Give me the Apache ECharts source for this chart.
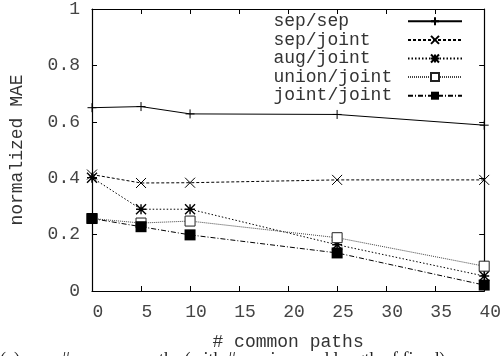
<!DOCTYPE html>
<html>
<head>
<meta charset="utf-8">
<script src="https://cdn.jsdelivr.net/npm/echarts@6/dist/echarts.min.js"></script>
<style>
html,body{margin:0;padding:0;background:#fff;}
#chart{width:504px;height:356px;}
</style>
</head>
<body>
<div id="chart"></div>
<script>
const xValues = [0, 5, 10, 25, 40];
const sepSep = [0.650, 0.654, 0.628, 0.626, 0.588];
const sepJoint = [0.413, 0.383, 0.384, 0.394, 0.394];
const augJoint = [0.402, 0.290, 0.290, 0.164, 0.053];
const unionJoint = [0.257, 0.241, 0.248, 0.189, 0.088];
const jointJoint = [0.257, 0.228, 0.199, 0.135, 0.021];
const seriesNames = ['sep/sep', 'sep/joint', 'aug/joint', 'union/joint', 'joint/joint'];
const xTicks = [0, 5, 10, 15, 20, 25, 30, 35, 40];
const yTicks = [0, 0.2, 0.4, 0.6, 0.8, 1];
const xTitle = '# common paths';
const yTitle = 'normalized MAE';
const caption = '(a) vary # common paths (with # services and length of fixed)';

const MONO = 'Liberation Mono';
const pairs = vals => xValues.map((x, i) => [x, vals[i]]);

const plusPath = 'path://M5,0L5,10M0,5L10,5';
const crossPath = 'path://M0,0L10,10M10,0L0,10';
const starPath = 'path://M0,0L10,10M10,0L0,10M5,0L5,10M0,5L10,5';

function mk(name, vals, dash, symbol, size, itemStyle, lineColor) {
  return {
    name: name,
    type: 'line',
    data: pairs(vals),
    symbol: symbol,
    symbolSize: size,
    showAllSymbol: true,
    lineStyle: {color: lineColor || '#000', width: 1, type: dash},
    itemStyle: itemStyle,
    emphasis: {disabled: true},
    animation: false,
    z: 3
  };
}

const strokeSym = {color: 'none', borderColor: '#000', borderWidth: 1};

const series = [
  mk(seriesNames[0], sepSep, 'solid', plusPath, 9, strokeSym),
  mk(seriesNames[1], sepJoint, [3, 2], crossPath, 10, strokeSym),
  mk(seriesNames[2], augJoint, [1.5, 2], starPath, 10, {color: 'none', borderColor: '#000', borderWidth: 1.4}),
  mk(seriesNames[3], unionJoint, [1, 1], 'rect', 10, {color: '#fff', borderColor: '#222', borderWidth: 1}, '#444'),
  mk(seriesNames[4], jointJoint, [5, 2, 1, 2], 'rect', 11, {color: '#000', borderColor: '#000', borderWidth: 0})
];

const axisCommon = {
  axisLine: {show: true, onZero: false, lineStyle: {color: '#000', width: 1.2}},
  axisTick: {show: true, inside: true, length: 5, lineStyle: {color: '#000', width: 1}},
  splitLine: {show: false}
};

const maxLen = Math.max(...seriesNames.map(s => s.length)) + 1;

const chart = echarts.init(document.getElementById('chart'), null, {renderer: 'canvas'});
chart.setOption({
  backgroundColor: '#fff',
  animation: false,
  grid: {left: 92, right: 18, top: 5, bottom: 64, containLabel: false},
  legend: {
    orient: 'vertical',
    right: 41,
    top: 12,
    padding: 0,
    align: 'right',
    itemGap: 0,
    itemWidth: 54,
    itemHeight: 10,
    data: seriesNames,
    formatter: name => name.padEnd(maxLen, '\u00a0'),
    textStyle: {fontFamily: MONO, fontSize: 18, color: '#333', lineHeight: 18.6},
    selectedMode: false
  },
  xAxis: [
    Object.assign({
      type: 'value', min: 0, max: 40, interval: 5, position: 'bottom',
      name: xTitle, nameLocation: 'middle', nameGap: 42,
      nameTextStyle: {fontFamily: MONO, fontSize: 18, color: '#333'},
      axisLabel: {fontFamily: MONO, fontSize: 18, color: '#444', margin: 12, padding: [0, 0, 0, 12],
        formatter: v => xTicks.includes(v) ? String(v) : ''}
    }, axisCommon),
    Object.assign({
      type: 'value', min: 0, max: 40, interval: 5, position: 'top',
      axisLabel: {show: false}
    }, axisCommon)
  ],
  yAxis: [
    Object.assign({
      type: 'value', min: 0, max: 1, interval: 0.2, position: 'left',
      name: yTitle, nameLocation: 'middle', nameGap: 66, nameRotate: 90,
      nameTextStyle: {fontFamily: MONO, fontSize: 18, color: '#333'},
      axisLabel: {fontFamily: MONO, fontSize: 18, color: '#444', margin: 12,
        formatter: v => { const t = yTicks.find(y => Math.abs(y - v) < 1e-9); return t === undefined ? '' : String(t); }}
    }, axisCommon),
    Object.assign({
      type: 'value', min: 0, max: 1, interval: 0.2, position: 'right',
      axisLabel: {show: false}
    }, axisCommon)
  ],
  graphic: [{
    type: 'text', left: 0, top: 351,
    style: {text: caption, fontFamily: 'Liberation Serif', fontSize: 18, fill: '#222'}
  }],
  series: series
});
</script>
</body>
</html>
